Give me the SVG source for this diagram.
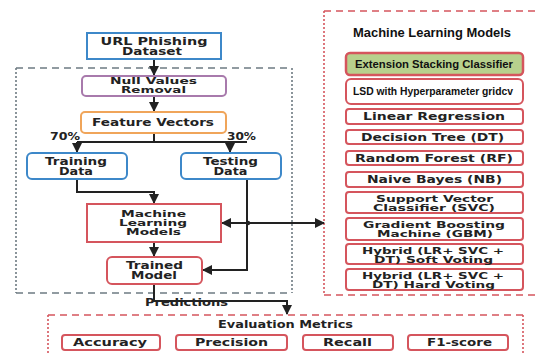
<svg xmlns="http://www.w3.org/2000/svg" width="539" height="354" viewBox="0 0 539 354">
<style>
.t{font-family:"DejaVu Sans",sans-serif;font-weight:bold;font-size:10px;fill:#222;text-anchor:middle}
.m{font-size:9px}
.a{font-family:"Liberation Sans",Arial,sans-serif;font-weight:bold;fill:#111;text-anchor:middle}
.box{fill:#fff;stroke-width:2}
.red{stroke:#d5555d}
.blue{stroke:#3d88c9}
.pur{stroke:#a87aac}
.org{stroke:#f0a55a}
.gd{stroke:#6e7b82;stroke-width:1.6;fill:none;stroke-dasharray:7 5}
.gv{stroke:#6e7b82;stroke-width:1.6;fill:none;stroke-dasharray:2 2}
.rd{stroke:#d5555d;stroke-width:1.6;fill:none;stroke-dasharray:7 5}
.rv{stroke:#d5555d;stroke-width:1.6;fill:none;stroke-dasharray:2 2}
.c{stroke:#222;stroke-width:2;fill:none}
</style>
<defs>
<marker id="ah" viewBox="0 0 10 10" refX="9" refY="5" markerWidth="5" markerHeight="5" orient="auto-start-reverse" markerUnits="strokeWidth">
<path d="M0,0 L10,5 L0,10 z" fill="#222"/>
</marker>
</defs>
<rect width="539" height="354" fill="#fff"/>

<g id="containers">
<line class="gd" x1="16" y1="68" x2="292" y2="68"/>
<line class="gd" x1="16" y1="293" x2="292" y2="293"/>
<line class="gv" x1="16" y1="68" x2="16" y2="293"/>
<line class="gv" x1="292" y1="68" x2="292" y2="293"/>
<line class="rd" x1="324" y1="11" x2="545" y2="11"/>
<line class="rd" x1="324" y1="295" x2="545" y2="295"/>
<line class="rv" x1="324" y1="11" x2="324" y2="295"/>
<line class="rd" x1="48" y1="315" x2="523" y2="315"/>
<line class="rv" x1="48" y1="315" x2="48" y2="360"/>
<line class="rv" x1="523" y1="315" x2="523" y2="360"/>
</g>

<g id="connectors">
<path class="c" d="M154 59 V75" marker-end="url(#ah)"/>
<path class="c" d="M154 96 V111" marker-end="url(#ah)"/>
<path class="c" d="M154 133 V142 M77 142 H247"/>
<path class="c" d="M77 142 V152" marker-end="url(#ah)"/>
<path class="c" d="M230 142 V152" marker-end="url(#ah)"/>
<path class="c" d="M77 179 V192 H154 V203" marker-end="url(#ah)"/>
<path class="c" d="M247 179 V270 H203" marker-end="url(#ah)"/>
<path class="c" d="M222 223 H324" marker-start="url(#ah)" marker-end="url(#ah)"/>
<circle cx="248" cy="223" r="2.2" fill="#222"/>
<path class="c" d="M154 242 V256" marker-end="url(#ah)"/>
<path class="c" d="M154 284 V301 H287 V314" marker-end="url(#ah)"/>
<text class="t" x="186.5" y="306" textLength="83" lengthAdjust="spacingAndGlyphs">Predictions</text>
<text class="t" x="65" y="140" textLength="30" lengthAdjust="spacingAndGlyphs">70%</text>
<text class="t" x="241.5" y="140" textLength="29" lengthAdjust="spacingAndGlyphs">30%</text>
</g>

<g id="url">
<rect class="box blue" x="87" y="33" width="134" height="26"/>
<text class="t" x="154" y="45" textLength="107" lengthAdjust="spacingAndGlyphs">URL Phishing</text>
<text class="t" x="152" y="55" textLength="60" lengthAdjust="spacingAndGlyphs">Dataset</text>
</g>
<g id="null">
<rect class="box pur" x="82" y="76" width="144" height="20" rx="4"/>
<text class="t m" x="153.5" y="84" textLength="87" lengthAdjust="spacingAndGlyphs">Null Values</text>
<text class="t m" x="153.5" y="93" textLength="65" lengthAdjust="spacingAndGlyphs">Removal</text>
</g>
<g id="feature">
<rect class="box org" x="81" y="112" width="145" height="21" rx="4"/>
<text class="t" x="153" y="126" textLength="122" lengthAdjust="spacingAndGlyphs">Feature Vectors</text>
</g>
<g id="training">
<rect class="box blue" x="27" y="153" width="100" height="26" rx="5"/>
<text class="t" x="76" y="165" textLength="62" lengthAdjust="spacingAndGlyphs">Training</text>
<text class="t" x="76" y="175" textLength="34" lengthAdjust="spacingAndGlyphs">Data</text>
</g>
<g id="testing">
<rect class="box blue" x="181" y="153" width="100" height="26" rx="5"/>
<text class="t" x="230.5" y="165" textLength="55" lengthAdjust="spacingAndGlyphs">Testing</text>
<text class="t" x="230.5" y="175" textLength="34" lengthAdjust="spacingAndGlyphs">Data</text>
</g>
<g id="ml">
<rect class="box red" x="87" y="204" width="134" height="38"/>
<text class="t m" x="153.5" y="217" textLength="65" lengthAdjust="spacingAndGlyphs">Machine</text>
<text class="t m" x="153" y="226" textLength="68" lengthAdjust="spacingAndGlyphs">Learning</text>
<text class="t m" x="153.5" y="235" textLength="55" lengthAdjust="spacingAndGlyphs">Models</text>
</g>
<g id="trained">
<rect class="box red" x="107" y="257" width="95" height="27" rx="5"/>
<text class="t" x="154.5" y="269" textLength="57" lengthAdjust="spacingAndGlyphs">Trained</text>
<text class="t" x="154" y="279" textLength="46" lengthAdjust="spacingAndGlyphs">Model</text>
</g>

<g id="models">
<text class="a" x="432" y="37" font-size="12.5" textLength="158" lengthAdjust="spacingAndGlyphs">Machine Learning Models</text>
<rect class="red" x="346" y="53" width="177" height="22" rx="4" fill="#b8d08d" stroke-width="2.5"/>
<text class="a" x="434" y="68" font-size="11.5" textLength="158" lengthAdjust="spacingAndGlyphs">Extension Stacking Classifier</text>
<rect class="box red" x="346" y="79" width="177" height="25" rx="5" stroke-width="2.5"/>
<text class="a" x="433" y="95" font-size="11" textLength="160" lengthAdjust="spacingAndGlyphs">LSD with Hyperparameter gridcv</text>
<rect class="box red" x="346" y="109" width="177" height="15" rx="3"/>
<text class="t" x="434" y="120" textLength="142" lengthAdjust="spacingAndGlyphs">Linear Regression</text>
<rect class="box red" x="346" y="130" width="177" height="14" rx="3"/>
<text class="t" x="432.5" y="141" textLength="143" lengthAdjust="spacingAndGlyphs">Decision Tree (DT)</text>
<rect class="box red" x="346" y="151" width="177" height="14" rx="3"/>
<text class="t" x="434" y="162" textLength="158" lengthAdjust="spacingAndGlyphs">Random Forest (RF)</text>
<rect class="box red" x="346" y="172" width="177" height="15" rx="3"/>
<text class="t" x="434.5" y="183" textLength="135" lengthAdjust="spacingAndGlyphs">Naive Bayes (NB)</text>
<rect class="box red" x="346" y="192" width="177" height="21" rx="3"/>
<text class="t m" x="434.5" y="202" textLength="117" lengthAdjust="spacingAndGlyphs">Support Vector</text>
<text class="t m" x="434" y="211" textLength="122" lengthAdjust="spacingAndGlyphs">Classifier (SVC)</text>
<rect class="box red" x="346" y="218" width="177" height="22" rx="3"/>
<text class="t m" x="434" y="228" textLength="142" lengthAdjust="spacingAndGlyphs">Gradient Boosting</text>
<text class="t m" x="435" y="237" textLength="116" lengthAdjust="spacingAndGlyphs">Machine (GBM)</text>
<rect class="box red" x="346" y="244" width="177" height="20" rx="3"/>
<text class="t m" x="433" y="253.5" textLength="142" lengthAdjust="spacingAndGlyphs">Hybrid (LR+ SVC +</text>
<text class="t m" x="433.5" y="262.5" textLength="119" lengthAdjust="spacingAndGlyphs">DT) Soft Voting</text>
<rect class="box red" x="346" y="269" width="177" height="21" rx="3"/>
<text class="t m" x="433" y="279" textLength="142" lengthAdjust="spacingAndGlyphs">Hybrid (LR+ SVC +</text>
<text class="t m" x="433.5" y="288" textLength="123" lengthAdjust="spacingAndGlyphs">DT) Hard Voting</text>
</g>

<g id="eval">
<text class="t" x="285.5" y="328" textLength="135" lengthAdjust="spacingAndGlyphs">Evaluation Metrics</text>
<rect class="box red" x="62" y="335" width="98" height="15" rx="3"/>
<text class="t" x="110" y="346" textLength="74" lengthAdjust="spacingAndGlyphs">Accuracy</text>
<rect class="box red" x="176" y="335" width="111" height="15" rx="3"/>
<text class="t" x="231.5" y="346" textLength="73" lengthAdjust="spacingAndGlyphs">Precision</text>
<rect class="box red" x="303" y="335" width="90" height="15" rx="3"/>
<text class="t" x="347.5" y="346" textLength="49" lengthAdjust="spacingAndGlyphs">Recall</text>
<rect class="box red" x="408" y="335" width="100" height="15" rx="3"/>
<text class="t" x="459.5" y="346" textLength="65" lengthAdjust="spacingAndGlyphs">F1-score</text>
</g>
</svg>
